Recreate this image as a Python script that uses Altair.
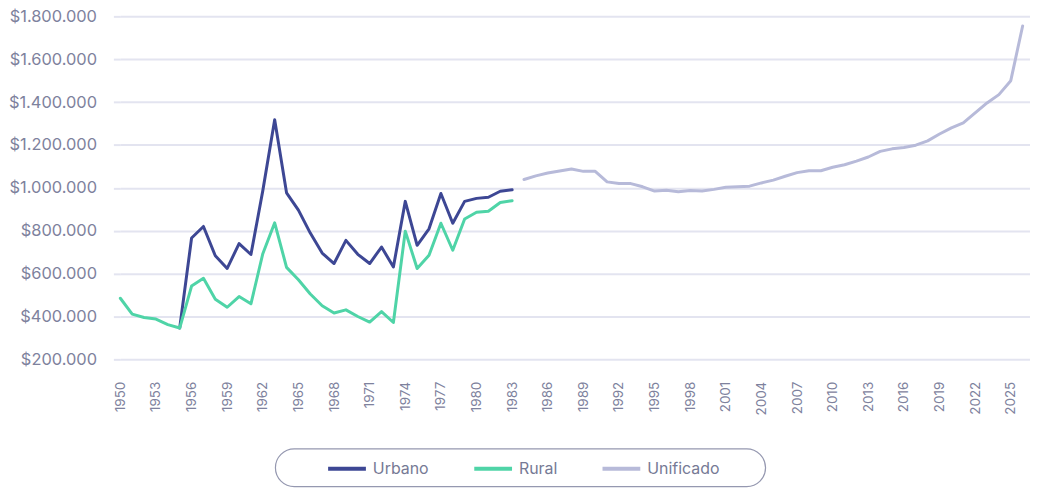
import altair as alt
import pandas as pd

years_hist = list(range(1950, 1984))
rural = [485, 411, 395, 388, 362, 346, 542, 578, 480, 443, 493, 459, 693, 837, 629, 571,
         505, 450, 416, 431, 400, 374, 423, 372, 798, 624, 686, 835, 709, 855, 886, 891,
         932, 940]
urbano = [None, None, None, None, None, 346, 766, 820, 683, 624, 740, 689, 987, 1318, 977,
          896, 789, 696, 647, 755, 690, 647, 724, 631, 937, 732, 809, 974, 835, 937, 951,
          956, 984, 991]
years_uni = list(range(1984, 2027))
unificado = [1039, 1056, 1069, 1079, 1088, 1077, 1077, 1028, 1020, 1020, 1005, 985, 989, 982,
             988, 985, 993, 1003, 1005, 1008, 1023, 1036, 1054, 1071, 1080, 1080, 1096, 1108,
             1125, 1144, 1170, 1182, 1188, 1199, 1219, 1251, 1280, 1303, 1350, 1396, 1435,
             1500, 1755]

series_names = ["Urbano", "Rural", "Unificado"]
series_colors = ["#3d4794", "#4fd4a7", "#b7bad9"]
y_ticks = [200000, 400000, 600000, 800000, 1000000, 1200000, 1400000, 1600000, 1800000]
x_ticks = list(range(1950, 2026, 3))

rows = []
for y, v in zip(years_hist, urbano):
    if v is not None:
        rows.append({"year": y, "value": v * 1000, "serie": "Urbano"})
for y, v in zip(years_hist, rural):
    rows.append({"year": y, "value": v * 1000, "serie": "Rural"})
for y, v in zip(years_uni, unificado):
    rows.append({"year": y, "value": v * 1000, "serie": "Unificado"})
df = pd.DataFrame(rows)

FONT = "Inter"
LABEL_COLOR = "#7e829d"
GRID_COLOR = "#e3e4f0"

lines = alt.Chart(df).mark_line(strokeWidth=3, strokeJoin="round", strokeCap="round").encode(
    x=alt.X("year:Q",
            scale=alt.Scale(domain=[1950, 2026.62], nice=False, zero=False),
            axis=alt.Axis(values=x_ticks, format="d", labelAngle=270, grid=False, ticks=False,
                          domain=False, labelPadding=22, labelFont=FONT, labelFontSize=13.5,
                          labelColor=LABEL_COLOR, title=None, labelOverlap=False)),
    y=alt.Y("value:Q",
            scale=alt.Scale(domain=[200000, 1800000], nice=False, zero=False),
            axis=alt.Axis(values=y_ticks, grid=True, gridColor=GRID_COLOR, gridWidth=2,
                          ticks=True, tickSize=7, tickColor=GRID_COLOR, tickWidth=2,
                          domain=False, labelPadding=17, labelFont=FONT, labelFontSize=16.5,
                          labelColor=LABEL_COLOR, title=None,
                          labelExpr="'$' + replace(replace(format(datum.value, ',.0f'), ',', '.'), ',', '.')")),
    color=alt.Color("serie:N",
                    scale=alt.Scale(domain=series_names, range=series_colors),
                    sort=series_names,
                    legend=alt.Legend(title=None, orient="none", legendX=207, legendY=434,
                                      direction="horizontal", symbolType="stroke",
                                      symbolSize=1444, symbolStrokeWidth=4,
                                      labelFont=FONT, labelFontSize=16, labelColor="#767a95",
                                      columnPadding=37, labelOffset=5, padding=0)),
)

box = alt.Chart(pd.DataFrame({"k": [0]})).mark_rect(
    fill="white", fillOpacity=0, stroke="#9598b0", strokeWidth=1.2, cornerRadius=19
).encode(
    x=alt.value(156), x2=alt.value(649), y=alt.value(435), y2=alt.value(473)
)

chart = alt.layer(box, lines).properties(
    width=915, height=345,
    autosize=alt.AutoSizeParams(type="none"),
    padding={"left": 113, "top": 7, "right": 0, "bottom": 130},
).configure_view(stroke=None)

chart.save("out.html", embed_options={"renderer": "svg", "actions": False})
